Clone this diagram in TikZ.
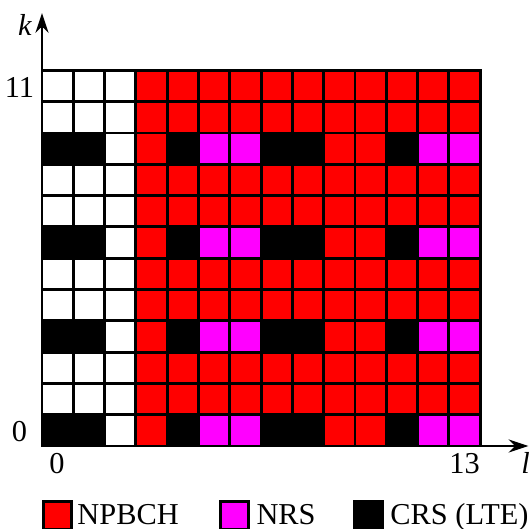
\documentclass[tikz,border=0pt]{standalone}
\usepackage{fontspec}
\setmainfont{Liberation Serif}
\usetikzlibrary{arrows.meta}
\definecolor{npbch}{RGB}{255,0,0}
\definecolor{nrs}{RGB}{255,0,255}
\tikzset{
  cell/.style={draw=black,line width=1.3pt},
  axis/.style={line width=1pt,-{Stealth[length=9pt,width=6pt]}},
  lbl/.style={font=\fontsize{13.8}{16}\selectfont,inner sep=0pt},
  key/.style={draw=black,line width=1.3pt,minimum size=0.45cm,inner sep=0pt,anchor=north west},
}
\begin{document}
\begin{tikzpicture}[x=0.5cm,y=0.5cm]
  \useasboundingbox (-1.342,-2.652) rectangle (15.56,14.25);
  % rows without CRS
  \foreach \k in {1,2,4,5,7,8,10,11} {
    \foreach \l in {0,1,2} \draw[cell,fill=white] (\l,\k) rectangle ++(1,1);
    \foreach \l in {3,...,13} \draw[cell,fill=npbch] (\l,\k) rectangle ++(1,1);
  }
  % rows with CRS and NRS
  \foreach \k in {0,3,6,9} {
    \foreach \l/\c in {0/black,1/black,2/white,3/npbch,4/black,5/nrs,6/nrs,
                       7/black,8/black,9/npbch,10/npbch,11/black,12/nrs,13/nrs}
      \draw[cell,fill=\c] (\l,\k) rectangle ++(1,1);
  }
  % axes
  \coordinate (o) at (0,0);
  \coordinate (ktip) at (0,13.83);
  \coordinate (ltip) at (15.54,0);
  \draw[axis] (o) -- (ktip);
  \draw[axis] (o) -- (ltip);
  \node[lbl] (klabel) at (-0.54,13.45) {\textit{k}};
  \node[lbl] (llabel) at (15.45,-0.55) {\textit{l}};
  % ticks
  \node[lbl] (k11) at (-0.72,11.45) {11};
  \node[lbl] (k0) at (-0.72,0.45) {0};
  \node[lbl] (l0) at (0.48,-0.55) {0};
  \node[lbl] (l13) at (13.5,-0.55) {13};
  % legend
  \node[key,fill=npbch] (keynpbch) at (0,-1.725) {};
  \node[lbl,anchor=base west] (txtnpbch) at (1.12,-2.52) {NPBCH};
  \node[key,fill=nrs] (keynrs) at (5.65,-1.725) {};
  \node[lbl,anchor=base west] (txtnrs) at (6.84,-2.52) {NRS};
  \node[key,fill=black] (keycrs) at (9.94,-1.725) {};
  \node[lbl,anchor=base west] (txtcrs) at (11.12,-2.52) {CRS (LTE)};
\end{tikzpicture}
\end{document}
